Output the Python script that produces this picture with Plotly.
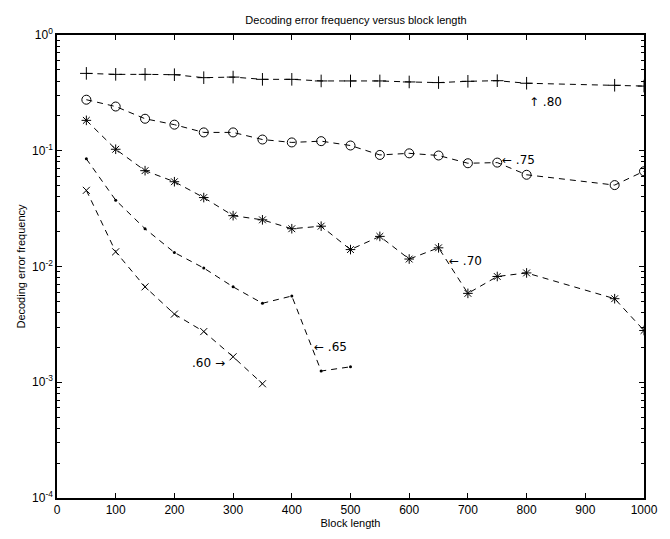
import math
import plotly.graph_objects as go

# Block lengths
x_long = [50, 100, 150, 200, 250, 300, 350, 400, 450, 500, 550, 600, 650, 700, 750, 800, 950, 1000]
x_65 = [50, 100, 150, 200, 250, 300, 350, 400, 450, 500]
x_60 = [50, 100, 150, 200, 250, 300, 350]

# Decoding error frequencies by rate
p80 = [0.466, 0.457, 0.457, 0.454, 0.428, 0.433, 0.414, 0.414, 0.401, 0.401,
       0.401, 0.393, 0.388, 0.398, 0.403, 0.383, 0.368, 0.362]
p75 = [0.276, 0.241, 0.189, 0.168, 0.144, 0.144, 0.125, 0.118, 0.121, 0.111,
       0.092, 0.095, 0.091, 0.078, 0.079, 0.062, 0.0505, 0.0665]
p70 = [0.183, 0.103, 0.0673, 0.054, 0.0394, 0.0275, 0.0253, 0.0212, 0.0223, 0.0140,
       0.0182, 0.0116, 0.0145, 0.00586, 0.0082, 0.0088, 0.00527, 0.0028]
p65 = [0.0851, 0.0374, 0.0212, 0.0132, 0.0097, 0.00667, 0.00481, 0.00556, 0.00125, 0.00136]
p60 = [0.0455, 0.0134, 0.00667, 0.00388, 0.00274, 0.00166, 0.00097]

# Curve labels
label_text = ["\u2191 .80", "\u2190 .75", "\u2190 .70", "\u2190 .65", ".60 \u2192"]
label_x = [800, 755, 665, 435, 227]
label_y = [0.265, 0.0835, 0.0112, 0.00202, 0.00147]

y_tickvals = [1e-4, 1e-3, 1e-2, 1e-1, 1]
y_ticktext = ["10<sup>-4</sup>", "10<sup>-3</sup>", "10<sup>-2</sup>", "10<sup>-1</sup>", "10<sup>0</sup>"]
y_minor = [k * 10.0 ** e for e in range(-4, 0) for k in range(2, 10)]
x_tickvals = [0, 100, 200, 300, 400, 500, 600, 700, 800, 900, 1000]

FONT = "Liberation Sans, Arial, Helvetica, sans-serif"
dash = "6px,5px"
line = dict(color="black", width=1, dash=dash)

fig = go.Figure()
fig.add_trace(go.Scatter(x=x_long, y=p80, mode="lines+markers", line=line,
                         marker=dict(symbol="cross-thin-open", size=9, line=dict(color="black", width=1), color="black")))
fig.add_trace(go.Scatter(x=x_long, y=p75, mode="lines+markers", line=line,
                         marker=dict(symbol="circle-open", size=9, line=dict(color="black", width=1), color="black")))
fig.add_trace(go.Scatter(x=x_long, y=p70, mode="lines+markers", line=line,
                         marker=dict(symbol="asterisk-open", size=8, line=dict(color="black", width=1), color="black")))
fig.add_trace(go.Scatter(x=x_65, y=p65, mode="lines+markers", line=line,
                         marker=dict(symbol="circle", size=3, color="black")))
fig.add_trace(go.Scatter(x=x_60, y=p60, mode="lines+markers", line=line,
                         marker=dict(symbol="x-thin-open", size=7, line=dict(color="black", width=1), color="black")))

for t, lx, ly in zip(label_text, label_x, label_y):
    fig.add_annotation(x=lx, y=math.log10(ly), yref="y", xref="x", text=t, showarrow=False,
                       xanchor="left", yanchor="middle",
                       font=dict(family="DejaVu Sans, Liberation Sans, sans-serif", size=12, color="black"))

fig.update_layout(
    width=670, height=539,
    margin=dict(l=57, r=15, t=35, b=34),
    paper_bgcolor="white", plot_bgcolor="white",
    showlegend=False,
    font=dict(family=FONT, size=12, color="black"),
    title=dict(text="Decoding error frequency versus block length",
               x=(57 + 655) / 2 / 670, xanchor="center",
               y=1 - 20 / 539, yanchor="middle",
               font=dict(family=FONT, size=11, color="black")),
    xaxis=dict(range=[0, 1000], tickvals=x_tickvals, ticks="inside", ticklen=5,
               tickcolor="black", showline=True, linecolor="black", linewidth=1.5,
               mirror="ticks", showgrid=False, zeroline=False,
               title=dict(text="Block length", standoff=2, font=dict(size=11)),
               tickfont=dict(size=12)),
    yaxis=dict(type="log", range=[-4, 0], tickvals=y_tickvals, ticktext=y_ticktext,
               ticks="inside", ticklen=5, tickcolor="black",
               showline=True, linecolor="black", linewidth=1.5, mirror="ticks",
               showgrid=False, zeroline=False,
               minor=dict(tickmode="array", tickvals=y_minor, ticks="inside", ticklen=3,
                          tickcolor="black", showgrid=False),
               title=dict(text="Decoding error frequency", standoff=4, font=dict(size=11)),
               tickfont=dict(size=12)),
)

fig.write_html("out.html",
               config={"displayModeBar": False},
               post_script="document.body.style.margin='0';document.body.style.padding='0';"
                           "document.body.style.overflow='hidden';")
